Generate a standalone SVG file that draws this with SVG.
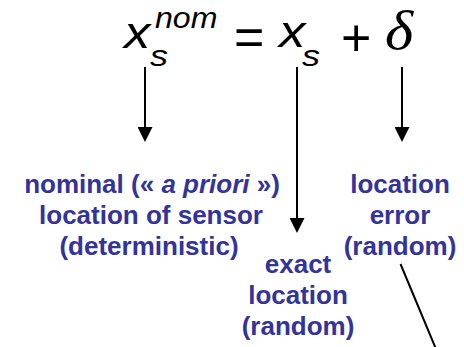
<svg xmlns="http://www.w3.org/2000/svg" width="464" height="347" viewBox="0 0 464 347">
  <style>
    .eq { font-family: "Liberation Sans", Arial, sans-serif; fill: #000; }
    .it { font-style: italic; }
    .greek { font-family: "Liberation Serif", "Times New Roman", serif; font-style: italic; fill: #000; }
    .lbl { font-family: "Liberation Sans", Arial, sans-serif; font-weight: bold; font-size: 26px; fill: #333399; text-anchor: middle; }
    .conn { stroke: #000; stroke-width: 2; fill: none; }
  </style>
  <defs>
    <marker id="ah" markerUnits="userSpaceOnUse" markerWidth="15" markerHeight="15" refX="3" refY="7.5" orient="auto">
      <path d="M0,0 L15,7.5 L0,15 z" fill="#000"/>
    </marker>
  </defs>
  <rect width="464" height="347" fill="#fff"/>

  <g id="eq-xnom">
    <text class="eq it" transform="translate(124,48) scale(1.2,1)" font-size="44">x</text>
    <text class="eq it" transform="translate(150,66) scale(1.2,1)" font-size="30">s</text>
    <text class="eq it" transform="translate(155,28) scale(1.07,1)" font-size="30">nom</text>
  </g>
  <g id="eq-equals">
    <text class="eq" x="234" y="54.5" font-size="52">=</text>
  </g>
  <g id="eq-xs">
    <text class="eq it" transform="translate(279,47) scale(1.2,1)" font-size="44">x</text>
    <text class="eq it" transform="translate(302,66) scale(1.2,1)" font-size="30">s</text>
  </g>
  <g id="eq-plus">
    <text class="eq" x="341" y="55.5" font-size="52">+</text>
  </g>
  <g id="eq-delta">
    <text class="greek" transform="translate(385,49) scale(1.12,1)" font-size="54">δ</text>
  </g>

  <g id="label-nominal">
    <text class="lbl" x="152" y="193">nominal (« <tspan font-style="italic">a priori</tspan> »)</text>
    <text class="lbl" x="151" y="224">location of sensor</text>
    <text class="lbl" x="149" y="255">(deterministic)</text>
  </g>
  <g id="label-exact">
    <text class="lbl" x="298" y="273">exact</text>
    <text class="lbl" x="298" y="304">location</text>
    <text class="lbl" x="298" y="335">(random)</text>
  </g>
  <g id="label-error">
    <text class="lbl" x="400" y="193">location</text>
    <text class="lbl" x="400" y="224">error</text>
    <text class="lbl" x="400" y="255">(random)</text>
  </g>

  <g id="connectors">
    <line class="conn" x1="145" y1="67" x2="145" y2="130" marker-end="url(#ah)"/>
    <line class="conn" x1="297" y1="67" x2="297" y2="221" marker-end="url(#ah)"/>
    <line class="conn" x1="402" y1="67" x2="402" y2="130" marker-end="url(#ah)"/>
    <line class="conn" x1="400.5" y1="264" x2="436" y2="349"/>
  </g>
</svg>
